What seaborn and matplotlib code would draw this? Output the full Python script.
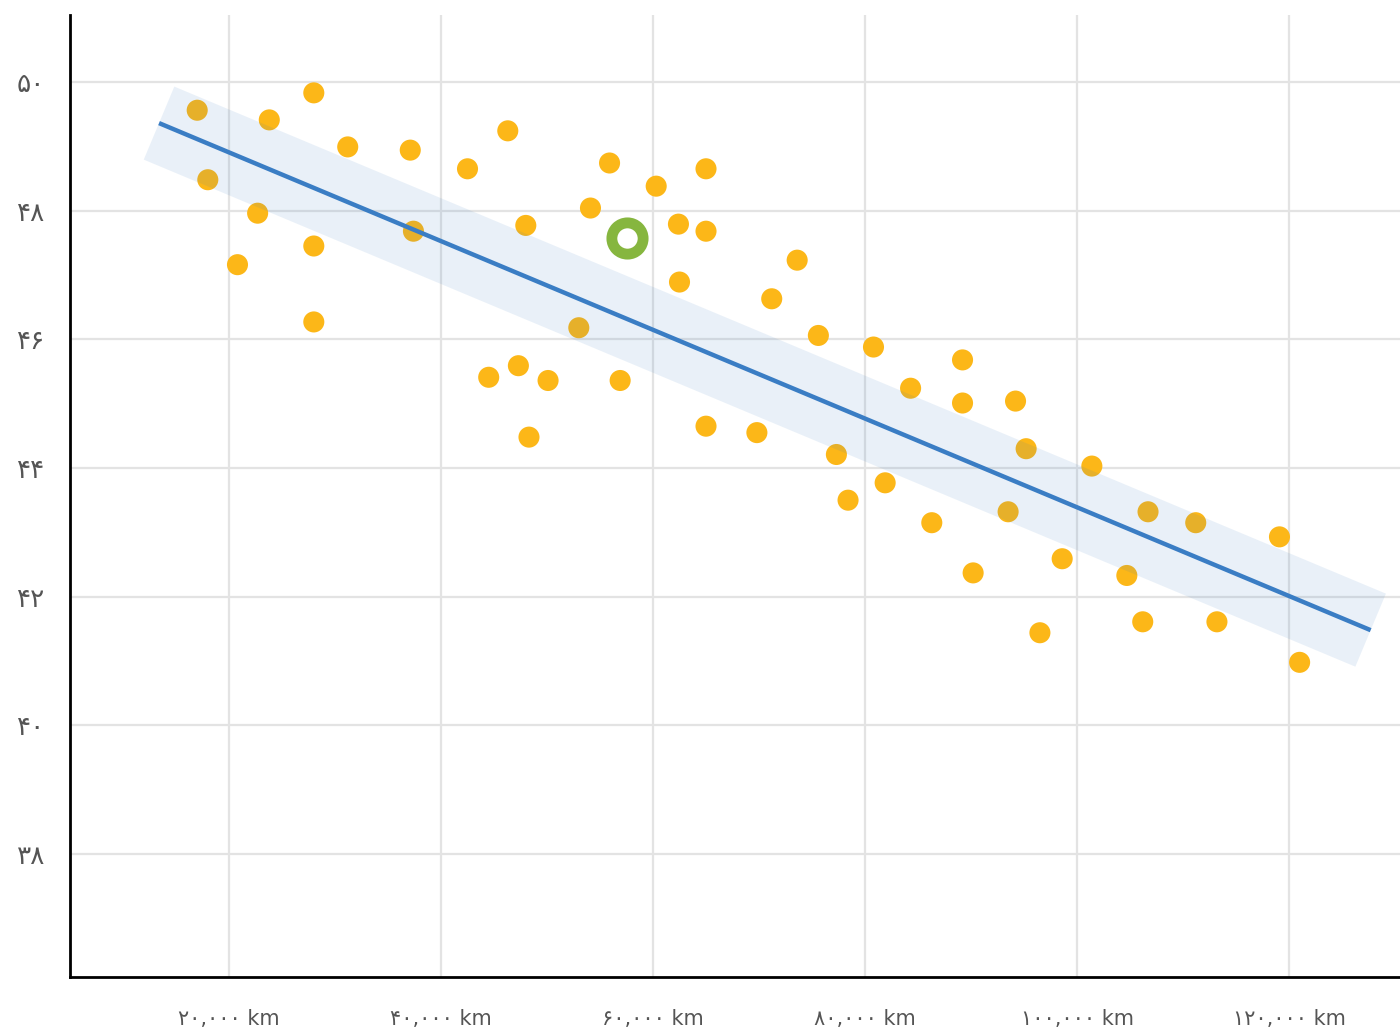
import pandas as pd
import seaborn as sns
import matplotlib.pyplot as plt

# scatter points (distance in km, value)
dist_km = [17000, 18000, 20800, 22700, 23800, 28000, 28000, 28000, 31200, 37100,
           37400, 46300, 42500, 55900, 60300, 65000, 54100, 48000, 62400, 65000,
           62500, 53000, 44500, 47300, 50100, 56900, 65000, 48300, 73600, 71200,
           75600, 80800, 89200, 84300, 89200, 94200, 69800, 77300, 95200, 81900,
           78400, 86300, 93500, 90200, 96500, 101400, 106700, 111200, 119100, 98600,
           104700, 106200, 113200, 121000]
values = [49.56, 48.48, 47.16, 47.96, 49.41, 49.83, 47.45, 46.27, 48.99, 48.94,
          47.68, 49.24, 48.65, 48.74, 48.38, 48.65, 48.04, 47.77, 47.79, 47.68,
          46.89, 46.18, 45.41, 45.59, 45.36, 45.36, 44.65, 44.48, 47.23, 46.63,
          46.06, 45.88, 45.68, 45.24, 45.01, 45.04, 44.55, 44.21, 44.30, 43.77,
          43.50, 43.15, 43.32, 42.37, 41.44, 44.03, 43.32, 43.15, 42.93, 42.59,
          42.33, 41.61, 41.61, 40.98]

# highlighted point
highlight_x = [57500]
highlight_y = [47.58]

# trend line end points
trend_x = [13400, 127700]
trend_y = [49.36, 41.48]

x_ticks = [20000, 40000, 60000, 80000, 100000, 120000]
y_ticks = [38, 40, 42, 44, 46, 48, 50]

fa_digits = str.maketrans('0123456789', '۰۱۲۳۴۵۶۷۸۹')


def to_fa(s):
    return s.translate(fa_digits)


df = pd.DataFrame({'dist': dist_km, 'value': values})
trend = pd.DataFrame({'dist': trend_x, 'value': trend_y})
hl = pd.DataFrame({'dist': highlight_x, 'value': highlight_y})

sns.set_style('white')
plt.rcParams['font.family'] = ['DejaVu Sans']

fig = plt.figure(figsize=(14, 10.3), dpi=100)
ax = fig.add_axes([70 / 1400, 53 / 1030, 1330 / 1400, 962 / 1030])

sns.scatterplot(data=df, x='dist', y='value', ax=ax, s=230, color='#FCB718',
                edgecolor='none', linewidth=0, zorder=3)

# confidence band as a wide translucent stroke
ax.plot(trend['dist'], trend['value'], color='#3A7DC4', alpha=0.11,
        linewidth=57, solid_capstyle='butt', zorder=4)
sns.lineplot(data=trend, x='dist', y='value', ax=ax, color='#3A7DC4',
             linewidth=3.2, solid_capstyle='butt', zorder=5)

ax.plot(hl['dist'], hl['value'], marker='o', markersize=22.5,
        markerfacecolor='white', markeredgecolor='#86B63F',
        markeredgewidth=7.8, linestyle='none', zorder=6)

ax.set_xlim(5000, 130470)
ax.set_ylim(36.09, 51.04)

ax.set_xticks(x_ticks)
ax.set_xticklabels([to_fa(f'{t:,}') + ' km' for t in x_ticks])
ax.set_yticks(y_ticks)
ax.set_yticklabels([to_fa(str(t)) for t in y_ticks])

ax.tick_params(axis='both', length=0, colors='#555555')
ax.tick_params(axis='x', pad=23, labelsize=15)
ax.tick_params(axis='y', pad=18, labelsize=19)

ax.grid(True, color='#E3E3E3', linewidth=1.6)
ax.set_axisbelow(True)

for side in ['top', 'right']:
    ax.spines[side].set_visible(False)
for side in ['left', 'bottom']:
    ax.spines[side].set_color('black')
    ax.spines[side].set_linewidth(2)

ax.set_xlabel('')
ax.set_ylabel('')

fig.savefig('out.png', dpi=100)
